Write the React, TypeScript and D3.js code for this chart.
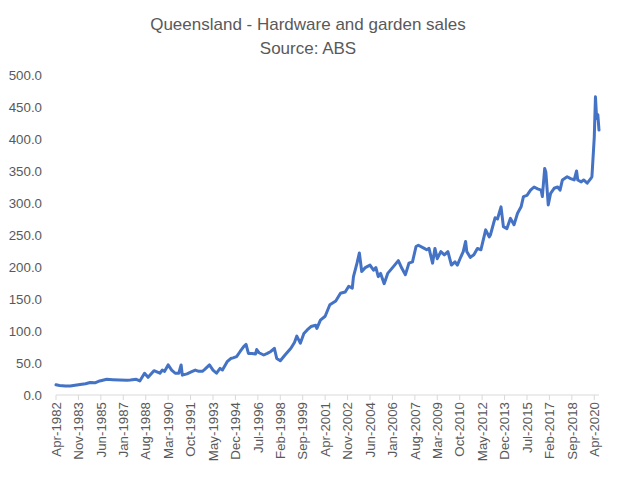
import React from "react";
import * as d3 from "d3";

const titleLines = ["Queensland - Hardware and garden sales", "Source: ABS"];

const sampleMonths = [
  "1982-04","1982-07","1982-12","1983-04","1983-11","1984-05","1984-09","1985-01","1985-05","1985-11",
  "1986-04","1986-10","1987-04","1987-07","1987-12","1988-03","1988-07","1988-10","1989-03","1989-05",
  "1989-08","1989-10","1989-12","1990-03","1990-06","1990-09","1990-12","1991-02","1991-03","1991-07",
  "1991-11","1992-02","1992-05","1992-08","1992-10","1993-02","1993-05","1993-08","1993-11","1994-01",
  "1994-05","1994-08","1994-10","1995-01","1995-04","1995-07","1995-09","1995-11","1996-02","1996-05",
  "1996-06","1996-08","1996-12","1997-03","1997-06","1997-09","1997-11","1998-02","1998-06","1998-11",
  "1999-02","1999-04","1999-07","1999-10","2000-01","2000-04","2000-08","2000-09","2000-12","2001-04",
  "2001-08","2002-01","2002-05","2002-09","2002-12","2003-03","2003-04","2003-07","2003-09","2003-11",
  "2004-02","2004-06","2004-09","2004-11","2005-01","2005-03","2005-06","2005-09","2006-02","2006-06",
  "2006-09","2006-12","2007-03","2007-06","2007-09","2007-11","2008-04","2008-06","2008-08","2008-11",
  "2009-01","2009-03","2009-06","2009-09","2009-12","2010-03","2010-06","2010-08","2010-11","2011-01",
  "2011-03","2011-04","2011-07","2011-10","2012-01","2012-04","2012-08","2012-11","2012-12","2013-04",
  "2013-06","2013-09","2013-11","2014-02","2014-05","2014-08","2014-11","2015-02","2015-04","2015-07",
  "2015-10","2016-01","2016-04","2016-07","2016-08","2016-10","2016-11","2017-01","2017-03","2017-06",
  "2017-09","2017-11","2018-01","2018-05","2018-08","2018-11","2019-01","2019-02","2019-05","2019-07",
  "2019-10","2020-01","2020-02","2020-04","2020-05","2020-06","2020-07","2020-08"
];

const salesValues = [
  16,15,14,14,16,17.5,19.5,19,22,24.5,
  24,23.5,23,23.4,24.5,22,34,27.6,38,36.5,
  34,39,37,47,39,34,34,47,31,33,
  36.5,39,37,37,40,47,39,34,41.6,39,
  52,57,58,60,68,75.5,79,65,65,64,
  71,66,62.5,65,68,73,57,53.6,62.5,73,
  82,92,81,96,102,107,109,104,117,123,
  141,147,159,161,170,167,185,206,222,193,
  199,203,195,199,185,190,174,190,201,210,
  198,188,206,208,232,234,229,227,229,206,
  229,213,224,219,224,203,208,203,216,224,
  240,224,215,219,229,227,258,247,250,277,
  275,294,263,260,276,266,284,294,310,312,
  320,325,322,320,310,354,348,297,315,323,
  325,320,336,341,338,336,350,336,333,336,
  331,338,341,403,466,432,438,414
];

const firstMonth = "1982-04";
const lastMonth = "2020-08";
const tickStepMonths = 19;
const yTicks = [0, 50, 100, 150, 200, 250, 300, 350, 400, 450, 500];

const monthIndex = (s: string) => {
  const [y, m] = s.split("-").map(Number);
  const [y0, m0] = firstMonth.split("-").map(Number);
  return (y - y0) * 12 + (m - m0);
};

const monthNames = ["Jan","Feb","Mar","Apr","May","Jun","Jul","Aug","Sep","Oct","Nov","Dec"];
const labelFor = (idx: number) => {
  const [y0, m0] = firstMonth.split("-").map(Number);
  const total = (m0 - 1) + idx;
  const y = y0 + Math.floor(total / 12);
  const m = total % 12;
  return `${monthNames[m]}-${y}`;
};

export default function App() {
  const W = 617, H = 480;
  const x = d3.scaleLinear().domain([0, monthIndex(lastMonth)]).range([56, 599]);
  const y = d3.scaleLinear().domain([0, 500]).range([395, 75]);
  const pts: [number, number][] = sampleMonths.map((s, i) => [monthIndex(s), salesValues[i]]);
  const line = d3.line<[number, number]>().x(d => x(d[0])).y(d => y(d[1]));
  const ticks = d3.range(0, monthIndex(lastMonth) + 1, tickStepMonths);
  const font = "'Liberation Sans', Arial, sans-serif";
  const grey = "#595959";
  return (
    <div style={{ position: "absolute", left: 0, top: 0 }}>
      <svg width={W} height={H} style={{ display: "block", background: "#fff" }}>
        <text x={308} y={30} textAnchor="middle" fontFamily={font} fontSize={17} fill={grey}>{titleLines[0]}</text>
        <text x={308} y={54} textAnchor="middle" fontFamily={font} fontSize={17} fill={grey}>{titleLines[1]}</text>
        {yTicks.map(t => (
          <text key={t} x={42} y={y(t)} dy="0.35em" textAnchor="end" fontFamily={font} fontSize={13.3} fill={grey}>{t.toFixed(1)}</text>
        ))}
        <line x1={x(0)} x2={x(monthIndex(lastMonth))} y1={y(0)} y2={y(0)} stroke="#d9d9d9" strokeWidth={1} />
        {ticks.map(t => (
          <g key={t}>
            <line x1={x(t)} x2={x(t)} y1={y(0)} y2={y(0) + 5} stroke="#d9d9d9" strokeWidth={1} />
            <text transform={`translate(${x(t)},${y(0) + 7}) rotate(-90)`} dy="0.35em" textAnchor="end" fontFamily={font} fontSize={13.3} fill={grey}>{labelFor(t)}</text>
          </g>
        ))}
        <path d={line(pts) || ""} fill="none" stroke="#4472C4" strokeWidth={3} strokeLinejoin="round" strokeLinecap="round" />
      </svg>
    </div>
  );
}
